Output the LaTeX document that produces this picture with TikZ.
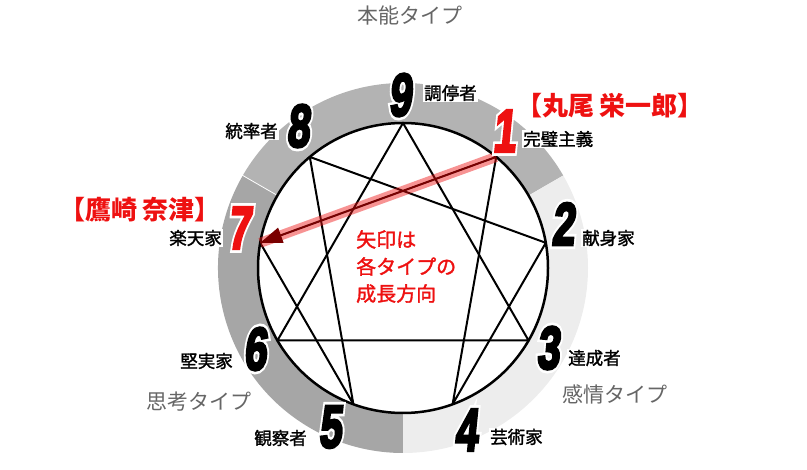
\documentclass[tikz,border=0pt]{standalone}
\usepackage{fontspec}
\setmainfont{Liberation Sans}
\newfontfamily\numW{Liberation Sans}[BoldFeatures={FakeBold=14}]
\newfontfamily\numB{Liberation Sans}[BoldFeatures={FakeBold=5}]
\newfontfamily\jp{Noto Sans CJK JP}
\newfontfamily\jpm{Noto Sans CJK JP}[FakeBold=1.5]
\usetikzlibrary{arrows.meta}
\definecolor{instc}{HTML}{B3B3B3}
\definecolor{headc}{HTML}{A6A6A6}
\definecolor{heartc}{HTML}{EDEDED}
\definecolor{typec}{HTML}{666666}
\definecolor{myred}{HTML}{EE1111}
\definecolor{darkred}{HTML}{7A0000}
\tikzset{
  numw/.style={font=\numW\bfseries\fontsize{60}{60}\selectfont, inner sep=0pt, text=white},
  numb/.style={font=\numB\bfseries\fontsize{60}{60}\selectfont, inner sep=0pt},
  lbl/.style={font=\jpm\fontsize{17.5}{17.5}\selectfont, text=black, fill=white, inner sep=1pt},
  typ/.style={font=\jp\fontsize{21}{21}\selectfont, text=typec, inner sep=0pt},
  pname/.style={font=\jp\bfseries\fontsize{26}{26}\selectfont, text=myred, inner sep=0pt},
  fig/.style={line width=2pt, line join=round},
}
\newcommand\bignum[5]{%
  \begin{scope}[shift={(#2,#3)}]
    \node[numw,xslant=0.1,transform shape] (#1w) at (0,0) {\scalebox{0.68}[1]{#5}};
    \node[numb,text=#4,xslant=0.1,transform shape] (#1) at (0,0) {\scalebox{0.68}[1]{#5}};
  \end{scope}}
\begin{document}
\begin{tikzpicture}[x=1pt,y=-1pt]
\useasboundingbox (0,0) rectangle (807,470);
\coordinate (c) at (403,268);
% ring
\fill[instc] (c) -- ++(-30:185) arc[start angle=-30,end angle=-150,radius=185] -- cycle;
\fill[headc] (c) -- ++(-150:185) arc[start angle=-150,end angle=-270,radius=185] -- cycle;
\fill[heartc] (c) -- ++(90:185) arc[start angle=90,end angle=-30,radius=185] -- cycle;
\draw[white, line width=0.8pt] ([shift={(-150:140)}]c) -- ([shift={(-150:186)}]c);
\draw[line width=2.5pt, fill=white] (c) circle[radius=145];
% vertices
\foreach \k in {1,...,9}{\coordinate (p\k) at ([shift={(40*\k-90:145)}]c);}
\draw[fig] (p9) -- (p3) -- (p6) -- cycle;
\draw[fig] (p1) -- (p4) -- (p2) -- (p8) -- (p5) -- (p7) -- cycle;
% arrow
\draw[myred, opacity=0.45, line width=10pt] (p1) -- (p7);
\draw[darkred, line width=1.3pt, -{Triangle[length=22pt,width=16pt]}] (p1) -- (p7);
% numbers
\bignum{n9}{402}{95}{black}{9}
\bignum{n8}{300}{126}{black}{8}
\bignum{n1}{506}{131}{myred}{1}
\bignum{n2}{565}{224}{black}{2}
\bignum{n7}{241}{228}{myred}{7}
\bignum{n6}{257}{349}{black}{6}
\bignum{n3}{550}{348}{black}{3}
\bignum{n5}{332}{427}{black}{5}
\bignum{n4}{468}{430}{black}{4}
% labels
\node[lbl, anchor=west] (l9) at (423,93) {調停者};
\node[lbl, anchor=east] (l8) at (279,131) {統率者};
\node[lbl, anchor=west] (l1) at (522,139) {完璧主義};
\node[lbl, anchor=west] (l2) at (581,238) {献身家};
\node[lbl, anchor=east] (l7) at (223,238) {楽天家};
\node[lbl, anchor=east] (l6) at (234,361) {堅実家};
\node[lbl, anchor=west] (l3) at (567,358) {達成者};
\node[lbl, anchor=east] (l5) at (308,438) {観察者};
\node[lbl, anchor=west] (l4) at (489,437) {芸術家};
% type labels
\node[typ] (t1) at (410,16) {本能タイプ};
\node[typ] (t2) at (199,402) {思考タイプ};
\node[typ] (t3) at (615,394) {感情タイプ};
% names
\node[pname] (m1) at (610,106) {【丸尾 栄一郎】};
\node[pname] (m2) at (140,210) {【鷹崎 奈津】};
% center message
\node[anchor=north west, align=left, inner sep=0pt, text=myred,
      font=\jpm\fontsize{20}{27}\selectfont] (msg) at (356,230) {矢印は\\各タイプの\\成長方向};
\end{tikzpicture}
\end{document}
